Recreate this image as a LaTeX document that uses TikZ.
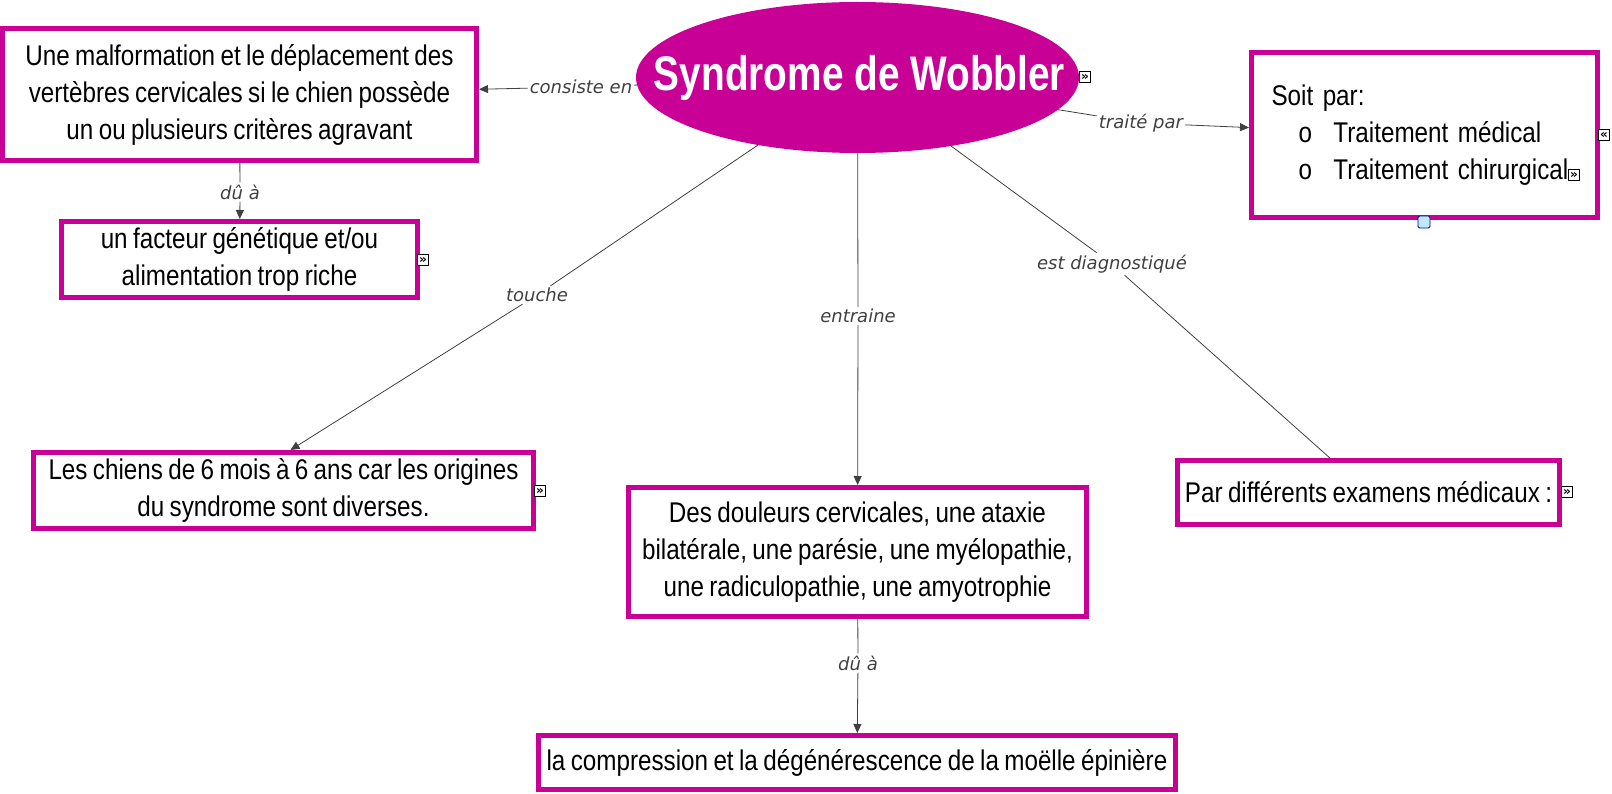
\documentclass[tikz,border=0pt]{standalone}
\usepackage{fontspec}
\setmainfont{Liberation Sans}[FakeStretch=0.85,WordSpace=0.8]
\newfontfamily\titlefont{Liberation Sans}[FakeStretch=0.8]
\newfontfamily\linkfont{DejaVu Sans}
\usetikzlibrary{arrows.meta,shapes.geometric}
\definecolor{wobmag}{RGB}{200,0,150}
\definecolor{linkgray}{RGB}{64,64,64}
\tikzset{
concept/.style={draw=wobmag, line width=5pt, fill=white, align=center, inner sep=0pt, font=\fontsize{28.5}{37}\selectfont},
linkword/.style={inner sep=2pt, text=linkgray, font=\linkfont\itshape\fontsize{18}{20}\selectfont},
conn/.style={draw=linkgray, line width=0.8pt},
arr/.style={conn, -{Triangle[length=9pt,width=8pt]}},
resicon/.style={draw, fill=white, line width=0.6pt, inner sep=0pt, minimum size=11pt, font=\linkfont\fontsize{12}{12}\selectfont\bfseries},
imgicon/.style={draw=blue!60!black, fill=cyan!25, line width=0.8pt, rounded corners=1.5pt, minimum size=12pt, inner sep=0pt}
}
\begin{document}
\begin{tikzpicture}[x=1pt,y=-1pt]
\useasboundingbox (0,0) rectangle (1612,794);
\node[ellipse, fill=wobmag, minimum width=443pt, minimum height=151pt, inner sep=0pt] (wobbler) at (857.5,77.5) {};
\node[text=white, inner sep=0pt, font=\titlefont\fontsize{48.5}{50}\selectfont\bfseries] (wobblertitle) at ([xshift=2pt]wobbler.center) {Syndrome de Wobbler};
\node[concept, minimum width=474pt, minimum height=132pt] (malf) at (239.5,94.5) {Une malformation et le déplacement des\\vertèbres cervicales si le chien possède\\un ou plusieurs critères agravant};
\node[concept, minimum width=356pt, minimum height=76pt] (facteur) at (239.5,259.5) {un facteur génétique et/ou\\alimentation trop riche};
\node[concept, minimum width=500pt, minimum height=76pt] (chiens) at (283.5,490.5) {Les chiens de 6 mois à 6 ans car les origines \\du syndrome sont diverses.};
\node[concept, minimum width=458pt, minimum height=129pt] (douleurs) at (857.5,552) {Des douleurs cervicales, une ataxie\\bilatérale, une parésie, une myélopathie,\\une radiculopathie, une amyotrophie};
\node[concept, minimum width=637pt, minimum height=54pt] (moelle) at (857,762.5) {la compression et la dégénérescence de la moëlle épinière};
\node[concept, minimum width=382pt, minimum height=64pt] (examens) at (1368.5,492.5) {Par différents examens médicaux :};
\node[concept, minimum width=346pt, minimum height=165pt, align=left, text width=306pt, inner xsep=20pt] (traitement) at (1424.5,135) {Soit par:\\\makebox[62pt][l]{\hspace*{27pt}o}Traitement médical\\\makebox[62pt][l]{\hspace*{27pt}o}Traitement chirurgical};
\node[linkword] (lconsiste) at (581,87) {consiste en};
\node[linkword] (ldu) at (240,192) {dû à};
\node[linkword] (ltouche) at (537,295) {touche};
\node[linkword] (lentraine) at (858,316) {entraine};
\node[linkword] (ldiag) at (1112,264) {est diagnostiqué};
\node[linkword] (ltraite) at (1141,123) {traité par};
\node[linkword] (lcause) at (858,663) {dû à};
\draw[conn] (wobbler) -- (lconsiste);
\draw[arr] (lconsiste) -- (malf);
\draw[conn] (malf) -- (ldu);
\draw[arr] (ldu) -- (facteur);
\draw[conn] (wobbler) -- (ltouche);
\draw[arr] (ltouche) -- ([xshift=7pt]chiens.north);
\draw[conn] (wobbler) -- (lentraine);
\draw[arr] (lentraine) -- (douleurs);
\draw[conn] (douleurs) -- (lcause);
\draw[arr] (lcause) -- (moelle);
\draw[conn] (wobbler) -- (ldiag);
\draw[conn] (ldiag) -- (examens);
\draw[conn] (wobbler) -- (ltraite);
\draw[arr] (ltraite) -- (traitement);
\node[resicon] (iwobbler) at (1085,77) {»};
\node[resicon] (ifacteur) at (423,260) {»};
\node[resicon] (ichiens) at (540,491) {»};
\node[resicon] (iexamens) at (1567,492) {»};
\node[resicon] (itraiteA) at (1604,135) {«};
\node[resicon] (itraiteB) at (1574,175) {»};
\node[imgicon] (iimage) at (1424,222) {};
\end{tikzpicture}
\end{document}
